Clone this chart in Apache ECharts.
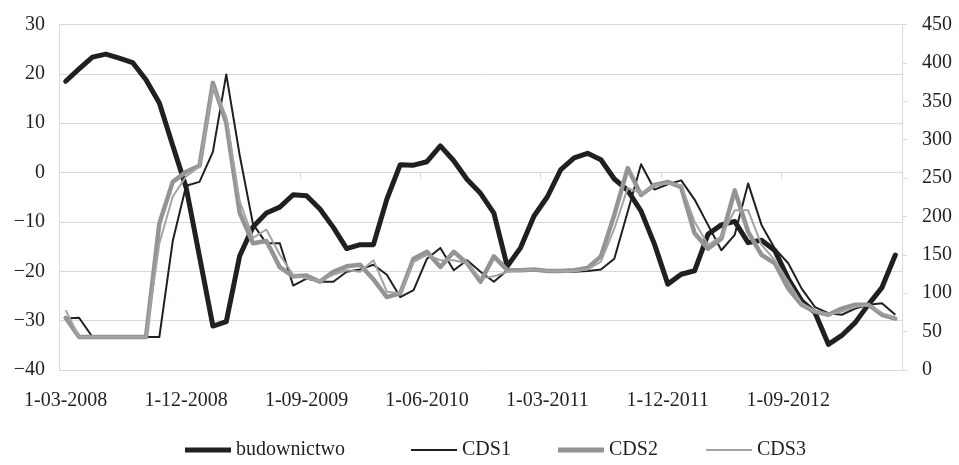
<!DOCTYPE html>
<html>
<head>
<meta charset="utf-8">
<script src="https://cdn.jsdelivr.net/npm/echarts@6/dist/echarts.min.js"></script>
<style>
html,body{margin:0;padding:0;background:#fff;}
#chart{width:959px;height:465px;}
</style>
</head>
<body>
<div id="chart"></div>
<script>
var categories = [
'1-03-2008','1-04-2008','1-05-2008','1-06-2008','1-07-2008','1-08-2008','1-09-2008','1-10-2008','1-11-2008',
'1-12-2008','1-01-2009','1-02-2009','1-03-2009','1-04-2009','1-05-2009','1-06-2009','1-07-2009','1-08-2009',
'1-09-2009','1-10-2009','1-11-2009','1-12-2009','1-01-2010','1-02-2010','1-03-2010','1-04-2010','1-05-2010',
'1-06-2010','1-07-2010','1-08-2010','1-09-2010','1-10-2010','1-11-2010','1-12-2010','1-01-2011','1-02-2011',
'1-03-2011','1-04-2011','1-05-2011','1-06-2011','1-07-2011','1-08-2011','1-09-2011','1-10-2011','1-11-2011',
'1-12-2011','1-01-2012','1-02-2012','1-03-2012','1-04-2012','1-05-2012','1-06-2012','1-07-2012','1-08-2012',
'1-09-2012','1-10-2012','1-11-2012','1-12-2012','1-01-2013','1-02-2013','1-03-2013','1-04-2013','1-05-2013'
];

var seriesNames = ['budownictwo','CDS1','CDS2','CDS3'];

var budownictwo = [18.5,21.0,23.4,24.0,23.2,22.3,18.8,14.1,5.5,-3.0,-17.0,-31.1,-30.2,-16.9,-11.0,-8.2,-7.0,-4.5,
-4.7,-7.4,-11.1,-15.4,-14.6,-14.6,-5.4,1.6,1.5,2.2,5.4,2.4,-1.4,-4.2,-8.2,-19.0,-15.2,-8.8,
-4.9,0.6,3.0,3.9,2.6,-1.3,-3.6,-7.8,-14.5,-22.6,-20.6,-19.9,-12.5,-10.6,-9.9,-14.2,-13.7,-15.8,
-21.5,-26.0,-28.4,-34.8,-33.0,-30.4,-26.7,-23.3,-16.7];

var cds1 = [67,68,43,43,43,43,43,43,168,240,245,284,385,280,190,165,165,110,
119,115,115,128,131,137,124,95,104,145,159,130,143,128,115,130,130,131,
129,129,128,129,131,145,206,268,235,242,247,222,189,156,176,243,189,158,
139,106,82,74,72,80,85,87,72];

var cds2 = [68,43,43,43,43,43,43,191,245,258,266,374,322,205,165,168,134,122,
123,115,128,135,137,118,95,100,145,154,134,154,139,115,148,130,130,131,
129,129,130,133,148,202,263,228,241,245,238,178,158,171,234,180,150,139,
106,85,76,72,80,85,85,72,67];

var cds3 = [78,43,43,43,43,43,43,165,226,252,265,370,330,220,172,183,150,124,
119,116,124,130,128,143,102,100,141,150,143,143,139,119,122,128,130,131,
129,129,129,131,141,184,237,230,241,243,241,193,163,174,208,208,163,143,
115,87,76,72,76,82,85,74,67];

var leftTicks = {min:-40, max:30, interval:10};
var rightTicks = {min:0, max:450, interval:50};

var FONT = '"Liberation Serif", "DejaVu Serif", serif';
var TXT = '#231f20';
var GRID = '#d9d9d9';
var COLORS = ['#231f20','#231f20','#949494','#a3a3a3'];
var WIDTHS = [5, 2, 4.5, 2];
var LEGEND_LEFT = [185, 411, 558, 706];

function legendFor(i){
  var h = WIDTHS[i] > 3 ? 5 : 2;
  return {
    left: LEGEND_LEFT[i], top: 440, padding: 0,
    itemWidth: 46, itemHeight: 14,
    symbolKeepAspect: true,
    itemStyle: {borderWidth: 0},
    textStyle: {fontFamily: FONT, fontSize: 20, color: TXT},
    data: [{name: seriesNames[i], icon: 'path://M0,0H45V' + h + 'H0Z'}]
  };
}

var chart = echarts.init(document.getElementById('chart'), null, {renderer:'canvas'});
chart.setOption({
  animation:false,
  backgroundColor:'#fff',
  textStyle:{fontFamily:FONT, color:TXT},
  grid:{left:59, right:57, top:24.5, bottom:95, containLabel:false},
  legend:[legendFor(0), legendFor(1), legendFor(2), legendFor(3)],
  xAxis:[{
    type:'category', data:categories, boundaryGap:true, position:'bottom',
    axisLine:{show:false, onZero:false},
    axisTick:{show:false},
    splitLine:{show:false},
    axisLabel:{interval:8, margin:21, fontFamily:FONT, fontSize:20, color:TXT}
  },{
    type:'category', data:categories, boundaryGap:true, position:'bottom',
    axisLine:{show:true, onZero:true, onZeroAxisIndex:0, lineStyle:{color:GRID, width:1}},
    axisTick:{show:true, interval:8, length:6, lineStyle:{color:GRID, width:1}},
    axisLabel:{show:false},
    splitLine:{show:false}
  }],
  yAxis:[{
    type:'value', position:'left', min:leftTicks.min, max:leftTicks.max, interval:leftTicks.interval,
    axisLine:{show:true, lineStyle:{color:GRID, width:1}},
    axisTick:{show:false},
    splitLine:{show:true, lineStyle:{color:GRID, width:1}},
    axisLabel:{margin:14, fontFamily:FONT, fontSize:20, color:TXT,
      formatter:function(v){return String(v).replace('-', '\u2212');}}
  },{
    type:'value', position:'right', min:rightTicks.min, max:rightTicks.max, interval:rightTicks.interval,
    axisLine:{show:true, lineStyle:{color:GRID, width:1}},
    axisTick:{show:true, length:5, lineStyle:{color:GRID, width:1}},
    splitLine:{show:false},
    axisLabel:{margin:20, fontFamily:FONT, fontSize:20, color:TXT}
  }],
  series:[
    {name:seriesNames[0], type:'line', data:budownictwo, yAxisIndex:0, symbol:'none',
      lineStyle:{color:COLORS[0], width:WIDTHS[0], cap:'round', join:'round'}, itemStyle:{color:COLORS[0]}},
    {name:seriesNames[1], type:'line', data:cds1, yAxisIndex:1, symbol:'none',
      lineStyle:{color:COLORS[1], width:WIDTHS[1], join:'round'}, itemStyle:{color:COLORS[1]}},
    {name:seriesNames[2], type:'line', data:cds2, yAxisIndex:1, symbol:'none',
      lineStyle:{color:COLORS[2], width:WIDTHS[2], cap:'round', join:'round'}, itemStyle:{color:COLORS[2]}},
    {name:seriesNames[3], type:'line', data:cds3, yAxisIndex:1, symbol:'none',
      lineStyle:{color:COLORS[3], width:WIDTHS[3], join:'round'}, itemStyle:{color:COLORS[3]}}
  ]
});
</script>
</body>
</html>
